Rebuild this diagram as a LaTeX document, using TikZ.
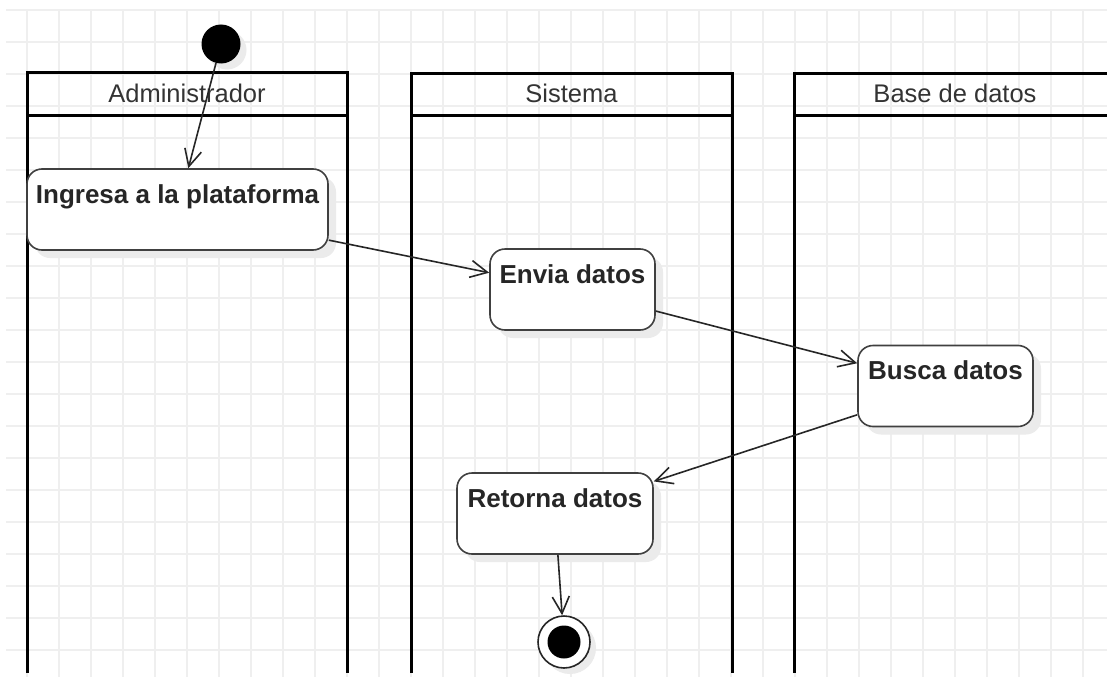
\documentclass[tikz,border=0pt]{standalone}
\usepackage{fontspec}
\setmainfont{Liberation Sans}
\usetikzlibrary{arrows.meta,shadows}
\definecolor{gridc}{HTML}{EFEFEF}
\definecolor{txt}{HTML}{333333}
\definecolor{shad}{HTML}{EBEBEB}
\tikzset{
  lane/.style={draw=black, line width=3pt},
  lanetitle/.style={font=\fontsize{25.5}{28}\selectfont, text=txt},
  act/.style={draw=black!75, line width=1.6pt, rounded corners=15pt, fill=white,
    inner xsep=0pt, inner ysep=0pt, text height=34pt, text depth=47pt, align=center,
    font=\bfseries\fontsize{26}{28}\selectfont, text=black!85,
    drop shadow={shadow xshift=8pt, shadow yshift=-8pt, fill=shad, opacity=1}},
  conn/.style={draw=black!85, line width=1.6pt, -{Straight Barb[length=17pt,width=17pt,line width=1.6pt]}},
  startn/.style={circle, fill=black, minimum size=39pt, inner sep=0pt,
    drop shadow={shadow xshift=6pt, shadow yshift=-6pt, fill=shad, opacity=1}},
}
\begin{document}
\begin{tikzpicture}[x=1pt,y=-1pt]
\useasboundingbox (0,0) rectangle (1107,677);
\fill[white] (0,0) rectangle (1107,677);
% grid
\foreach \k in {0,...,34} {\draw[gridc, line width=1.8pt] (27+32*\k,10) -- (27+32*\k,677);}
\foreach \k in {0,...,20} {\draw[gridc, line width=1.8pt] (6,10+32*\k) -- (1107,10+32*\k);}
% lanes
\draw[lane] (27,673) -- (27,72) -- (347,72) -- (347,673);
\draw[lane] (27,115) -- (347,115);
\node[lanetitle] (t1) at (187,93.5) {Administrador};
\draw[lane] (411,673) -- (411,73) -- (732,73) -- (732,673);
\draw[lane] (411,115) -- (732,115);
\node[lanetitle] (t2) at (571.5,93.5) {Sistema};
\draw[lane] (794,673) -- (794,73) -- (1110,73);
\draw[lane] (794,115) -- (1110,115);
\node[lanetitle] (t3) at (955,93.5) {Base de datos};
% nodes
\node[startn] (ini) at (221,44) {};
\node[act, minimum width=301pt] (n1) at (177.5,209.5) {Ingresa a la plataforma};
\node[act, minimum width=165pt] (n2) at (572.5,289.5) {Envia datos};
\node[act, minimum width=175pt] (n3) at (945.5,386) {Busca datos};
\node[act, minimum width=196pt] (n4) at (555,513.5) {Retorna datos};
\node[circle, draw=black!85, line width=1.6pt, fill=white, minimum size=52pt, inner sep=0pt,
  drop shadow={shadow xshift=6pt, shadow yshift=-6pt, fill=shad, opacity=1}] (fin) at (564,642) {};
\node[circle, fill=black, minimum size=33pt, inner sep=0pt] (finin) at (fin.center) {};
% connectors
\draw[conn] (ini) -- (n1);
\draw[conn] (n1) -- (n2);
\draw[conn] (n2) -- (n3);
\draw[conn] (n3) -- (n4);
\draw[conn] (n4) -- (fin);
\end{tikzpicture}
\end{document}
